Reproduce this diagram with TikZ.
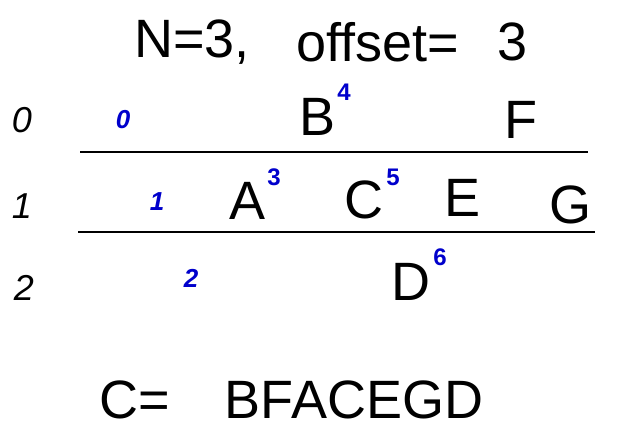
\documentclass[tikz,border=0pt]{standalone}
\usepackage{fontspec}
\setmainfont{Liberation Sans}
\begin{document}
\begin{tikzpicture}[x=1pt,y=-1pt,
  big/.style={inner sep=0pt,font=\fontsize{54}{54}\selectfont},
  lbl/.style={inner sep=0pt,font=\fontsize{36}{36}\selectfont\itshape},
  idx/.style={inner sep=0pt,text=blue!80!black,font=\fontsize{26}{26}\selectfont\itshape\bfseries},
  sup/.style={inner sep=0pt,text=blue!80!black,font=\fontsize{24}{24}\selectfont\bfseries},
  rail/.style={line width=2.2pt,black}]
\useasboundingbox (0,0) rectangle (618,441);
\fill[white] (0,0) rectangle (618,441);
% title
\node[big] (tN) at (192,42) {N=3,};
\node[big] (tOff) at (378,42) {offset=};
\node[big] (tThree) at (513,42) {3};
% row labels
\node[lbl] (r0) at (22,120) {0};
\node[lbl] (r1) at (22,206) {1};
\node[lbl] (r2) at (24,288) {2};
% rails
\coordinate (l1a) at (80,152); \coordinate (l1b) at (588,152);
\coordinate (l2a) at (78,232); \coordinate (l2b) at (595,232);
\draw[rail] (l1a) -- (l1b);
\draw[rail] (l2a) -- (l2b);
% blue indices
\node[idx] (i0) at (123,120) {0};
\node[idx] (i1) at (157,202) {1};
\node[idx] (i2) at (191,278) {2};
% letters
\node[big] (B) at (318,117) {B};
\node[sup] (s4) at (344,92) {4};
\node[big] (F) at (521,120) {F};
\node[big] (A) at (248,201) {A};
\node[sup] (s3) at (274,177) {3};
\node[big] (C) at (364,200) {C};
\node[sup] (s5) at (393,177) {5};
\node[big] (E) at (463,198) {E};
\node[big] (G) at (570,205) {G};
\node[big] (D) at (411,282) {D};
\node[sup] (s6) at (440,257) {6};
% result
\node[big] (ceq) at (135,400) {C=};
\node[big] (res) at (354,400) {BFACEGD};
\end{tikzpicture}
\end{document}
